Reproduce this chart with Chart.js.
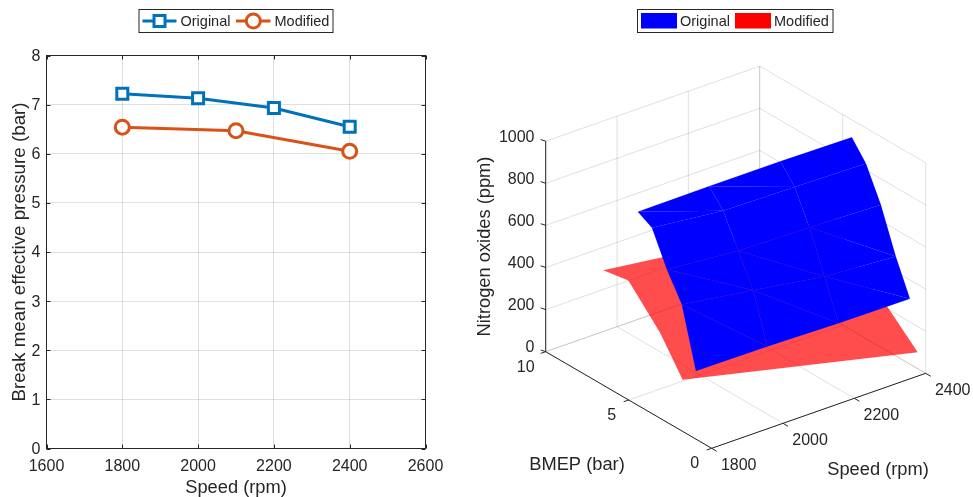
<!DOCTYPE html>
<html>
<head>
<meta charset="utf-8">
<title>Engine performance</title>
<script src="https://cdn.jsdelivr.net/npm/chart.js@4/dist/chart.umd.min.js"></script>
<style>
    html, body { margin: 0; padding: 0; background: #fff; overflow: hidden; }
    canvas { position: absolute; top: 0; }
    #lineChart { left: 0; }
    #surfaceChart { left: 455px; }
</style>
</head>
<body>
<canvas id="lineChart" width="455" height="497"></canvas>
<canvas id="surfaceChart" width="518" height="497"></canvas>
<script>
// Left plot: brake mean effective pressure
const originalSpeed = [1800, 2000, 2200, 2400];
const originalBmep = [7.22, 7.13, 6.93, 6.55];
const modifiedSpeed = [1800, 2100, 2400];
const modifiedBmep = [6.54, 6.47, 6.05];

// Right plot: axis ticks
const speedTicks = [1800, 2000, 2200, 2400];
const bmepTicks = [0, 5, 10];
const noxTicks = [0, 200, 400, 600, 800, 1000];

// Right plot: original surface, rows go from low to high BMEP
const surfaceSpeed = [1800, 2000, 2200, 2400];
const surfaceBmep = [0.95, 1.8, 2.7, 3.6, 4.45];
const surfaceNox = [
    [324, 321, 313, 311],
    [600, 549, 496, 472],
    [725, 696, 688, 677],
    [882, 845, 839, 831],
    [919, 922, 922, 917]
];

// Right plot: modified surface, BMEP changes with speed here
const modSurfaceSpeed = [1800, 2100, 2400];
const modSurfaceBmep = [
    [1.75, 1.12, 0.48],
    [3.11, 2.7, 2.27],
    [5.02, 4.34, 3.66],
    [6.53, 6.0, 5.47]
];
const modSurfaceNox = [
    [245, 161, 78],
    [406, 306, 207],
    [567, 423, 276],
    [546, 514, 483]
];

const FONT = '"Liberation Sans", Arial, sans-serif';
const TEXT = '#262626';
const GRID = 'rgba(38,38,38,0.14)';
const BLUE = '#0072BD';
const ORANGE = '#D95319';

// 3D view: where the axes end up on the page
function project(speed, bmep, nox) {
    const a = (speed - 1800) / 600;
    const b = bmep / 10;
    return {
        x: 711.7 + 214 * a - 166 * b,
        y: 448.3 - 75 * a - 96.6 * b - 0.2105 * nox
    };
}

function drawText(ctx, str, x, y, size, align, angle) {
    ctx.save();
    ctx.translate(x, y);
    if (angle) ctx.rotate(angle);
    ctx.font = size + 'px ' + FONT;
    ctx.fillStyle = TEXT;
    ctx.textAlign = align || 'center';
    ctx.textBaseline = 'middle';
    ctx.fillText(str, 0, 0);
    ctx.restore();
}

function drawLegendBox(ctx, left, right) {
    ctx.fillStyle = '#fff';
    ctx.fillRect(left, 9.5, right - left, 23);
    ctx.strokeStyle = TEXT;
    ctx.lineWidth = 1;
    ctx.strokeRect(left, 9.5, right - left, 23);
}

// Box, inward ticks and legend of the line plot
const lineDecor = {
    id: 'lineDecor',
    afterDraw(chart) {
        const ctx = chart.ctx;
        const area = chart.chartArea;
        const xs = chart.scales.x;
        const ys = chart.scales.y;
        ctx.save();
        ctx.strokeStyle = TEXT;
        ctx.lineWidth = 1;
        ctx.beginPath();
        xs.ticks.forEach(function(t) {
            const x = Math.round(xs.getPixelForValue(t.value)) + 0.5;
            ctx.moveTo(x, area.top); ctx.lineTo(x, area.top + 4);
            ctx.moveTo(x, area.bottom); ctx.lineTo(x, area.bottom - 4);
        });
        ys.ticks.forEach(function(t) {
            const y = Math.round(ys.getPixelForValue(t.value)) + 0.5;
            ctx.moveTo(area.left, y); ctx.lineTo(area.left + 4, y);
            ctx.moveTo(area.right, y); ctx.lineTo(area.right - 4, y);
        });
        ctx.stroke();
        ctx.strokeRect(area.left, area.top, area.right - area.left, area.bottom - area.top);

        // Legend
        drawLegendBox(ctx, 139, 333);
        ctx.lineWidth = 3;
        ctx.strokeStyle = BLUE;
        ctx.beginPath(); ctx.moveTo(142.5, 21); ctx.lineTo(176.5, 21); ctx.stroke();
        ctx.fillStyle = '#fff';
        ctx.fillRect(154, 15.5, 11, 11);
        ctx.strokeRect(154, 15.5, 11, 11);
        ctx.strokeStyle = ORANGE;
        ctx.beginPath(); ctx.moveTo(236, 21); ctx.lineTo(270.5, 21); ctx.stroke();
        ctx.beginPath(); ctx.arc(253.3, 21, 7, 0, Math.PI * 2); ctx.fill(); ctx.stroke();
        ctx.restore();
        drawText(ctx, 'Original', 180.5, 21.5, 14.5, 'left');
        drawText(ctx, 'Modified', 274.5, 21.5, 14.5, 'left');
    }
};

// Axis lines, ticks and labels of the 3D plot
const surfaceDecor = {
    id: 'surfaceDecor',
    afterDraw(chart) {
        const ctx = chart.ctx;
        const px = function(p) {
            return { x: chart.scales.x.getPixelForValue(p.x), y: chart.scales.y.getPixelForValue(p.y) };
        };
        const seg = function(p, dx, dy) {
            const q = px(p);
            ctx.moveTo(q.x, q.y);
            ctx.lineTo(q.x + dx, q.y + dy);
        };
        ctx.save();
        ctx.strokeStyle = TEXT;
        ctx.lineWidth = 1;
        ctx.beginPath();
        const origin = px(project(1800, 10, 0));
        const top = px(project(1800, 10, 1000));
        const corner = px(project(1800, 0, 0));
        const far = px(project(2400, 0, 0));
        ctx.moveTo(top.x, top.y); ctx.lineTo(origin.x, origin.y);
        ctx.lineTo(corner.x, corner.y); ctx.lineTo(far.x, far.y);
        noxTicks.forEach(function(z) { seg(project(1800, 10, z), -5, -1.7); });
        bmepTicks.forEach(function(b) { seg(project(1800, b, 0), -5, 1.7); });
        speedTicks.forEach(function(s) { seg(project(s, 0, 0), 5, 3); });
        ctx.stroke();

        // Legend
        drawLegendBox(ctx, 182.5, 378);
        ctx.fillStyle = '#0000ff';
        ctx.fillRect(186, 13, 36, 15.5);
        ctx.fillStyle = '#ff0000';
        ctx.fillRect(280, 13, 36, 15.5);
        ctx.restore();
        drawText(ctx, 'Original', 225, 21.5, 14.5, 'left');
        drawText(ctx, 'Modified', 319, 21.5, 14.5, 'left');

        // Tick labels
        noxTicks.forEach(function(z) {
            const p = px(project(1800, 10, z));
            drawText(ctx, String(z), 79.5, p.y - 4, 16, 'right');
        });
        speedTicks.forEach(function(s) {
            const p = px(project(s, 0, 0));
            drawText(ctx, String(s), p.x + 27, p.y + 17, 16);
        });
        bmepTicks.forEach(function(b) {
            const p = px(project(1800, b, 0));
            drawText(ctx, String(b), p.x - (b === 10 ? 20 : 17), p.y + 15.5, 16);
        });

        // Axis titles
        drawText(ctx, 'Nitrogen oxides (ppm)', 29.5, 246.5, 18.3, 'center', -Math.PI / 2);
        drawText(ctx, 'BMEP (bar)', 122, 464.5, 18.3);
        drawText(ctx, 'Speed (rpm)', 423, 470, 18.3);
    }
};

function polygon(points, color, seam) {
    return {
        data: points.concat([points[0]]),
        showLine: true,
        tension: 0,
        borderWidth: seam,
        borderColor: color,
        pointRadius: 0,
        backgroundColor: color,
        fill: 'shape',
        clip: false
    };
}

function gridLine(from, to) {
    return {
        data: [from, to],
        showLine: true,
        tension: 0,
        borderColor: GRID,
        borderWidth: 1,
        pointRadius: 0,
        fill: false,
        clip: false
    };
}

// First dataset ends up on top: blue mesh, red sheet, then the walls
function buildSurfaceDatasets() {
    const sets = [];

    // Blue mesh. Cells are split in two where the reference shows a diagonal seam
    for (let r = 0; r < surfaceBmep.length - 1; r++) {
        for (let c = 0; c < surfaceSpeed.length - 1; c++) {
            const p00 = project(surfaceSpeed[c], surfaceBmep[r], surfaceNox[r][c]);
            const p01 = project(surfaceSpeed[c + 1], surfaceBmep[r], surfaceNox[r][c + 1]);
            const p10 = project(surfaceSpeed[c], surfaceBmep[r + 1], surfaceNox[r + 1][c]);
            const p11 = project(surfaceSpeed[c + 1], surfaceBmep[r + 1], surfaceNox[r + 1][c + 1]);
            if (r === 2 || (r === 3 && c === 2)) {
                sets.push(polygon([p00, p01, p11, p10], '#0000ff', 0.12));
            } else {
                sets.push(polygon([p00, p01, p10], '#0000ff', 0.12));
                sets.push(polygon([p01, p11, p10], '#0000ff', 0.12));
            }
        }
    }

    // Red sheet, outline only since the fill is see-through
    const outline = [];
    const rows = modSurfaceBmep.length;
    const cols = modSurfaceSpeed.length;
    const modPoint = function(r, c) {
        return project(modSurfaceSpeed[c], modSurfaceBmep[r][c], modSurfaceNox[r][c]);
    };
    for (let c = 0; c < cols; c++) outline.push(modPoint(0, c));
    for (let r = 1; r < rows; r++) outline.push(modPoint(r, cols - 1));
    for (let c = cols - 2; c >= 0; c--) outline.push(modPoint(rows - 1, c));
    for (let r = rows - 2; r > 0; r--) outline.push(modPoint(r, 0));
    sets.push(polygon(outline, 'rgba(255,0,0,0.7)', 0));

    // Floor and the two back walls
    speedTicks.forEach(function(s) {
        sets.push(gridLine(project(s, 0, 0), project(s, 10, 0)));
        sets.push(gridLine(project(s, 10, 0), project(s, 10, 1000)));
    });
    bmepTicks.forEach(function(b) {
        sets.push(gridLine(project(1800, b, 0), project(2400, b, 0)));
        sets.push(gridLine(project(2400, b, 0), project(2400, b, 1000)));
    });
    noxTicks.forEach(function(z) {
        sets.push(gridLine(project(1800, 10, z), project(2400, 10, z)));
        sets.push(gridLine(project(2400, 10, z), project(2400, 0, z)));
    });
    return sets;
}

document.addEventListener('DOMContentLoaded', function() {
    new Chart(document.getElementById('lineChart').getContext('2d'), {
        type: 'scatter',
        data: {
            datasets: [{
                label: 'Modified',
                data: modifiedSpeed.map(function(s, i) { return { x: s, y: modifiedBmep[i] }; }),
                showLine: true,
                borderColor: ORANGE,
                borderWidth: 3,
                pointStyle: 'circle',
                pointRadius: 7,
                pointBorderWidth: 3,
                pointBorderColor: ORANGE,
                pointBackgroundColor: '#fff'
            }, {
                label: 'Original',
                data: originalSpeed.map(function(s, i) { return { x: s, y: originalBmep[i] }; }),
                showLine: true,
                borderColor: BLUE,
                borderWidth: 3,
                pointStyle: 'rect',
                pointRadius: 7.8,
                pointBorderWidth: 3,
                pointBorderColor: BLUE,
                pointBackgroundColor: '#fff'
            }]
        },
        options: {
            responsive: false,
            animation: false,
            layout: { padding: { top: 55.5, right: 29.5, left: 0, bottom: 0 } },
            plugins: { legend: { display: false }, tooltip: { enabled: false } },
            scales: {
                x: {
                    min: 1600,
                    max: 2600,
                    afterFit: function(s) { s.height = 48.5; },
                    ticks: {
                        stepSize: 200,
                        maxRotation: 0,
                        padding: 8,
                        color: TEXT,
                        font: { family: FONT, size: 16 },
                        callback: function(v) { return String(v); }
                    },
                    grid: { color: GRID, drawTicks: false },
                    border: { display: false },
                    title: {
                        display: true,
                        text: 'Speed (rpm)',
                        color: TEXT,
                        font: { family: FONT, size: 18.3, lineHeight: 1 },
                        padding: { top: -2, bottom: 0 }
                    }
                },
                y: {
                    min: 0,
                    max: 8,
                    afterFit: function(s) { s.width = 46.5; },
                    ticks: {
                        stepSize: 1,
                        padding: 6,
                        labelOffset: 1,
                        color: TEXT,
                        font: { family: FONT, size: 16 }
                    },
                    grid: { color: GRID, drawTicks: false },
                    border: { display: false },
                    title: {
                        display: true,
                        text: 'Break mean effective pressure (bar)',
                        color: TEXT,
                        font: { family: FONT, size: 18.8 },
                        padding: { top: 9, bottom: 0 }
                    }
                }
            }
        },
        plugins: [lineDecor]
    });

    new Chart(document.getElementById('surfaceChart').getContext('2d'), {
        type: 'scatter',
        data: { datasets: buildSurfaceDatasets() },
        options: {
            responsive: false,
            animation: false,
            plugins: { legend: { display: false }, tooltip: { enabled: false } },
            scales: {
                x: { display: false, min: 455, max: 973 },
                y: { display: false, min: 0, max: 497, reverse: true }
            }
        },
        plugins: [surfaceDecor]
    });
});
</script>
</body>
</html>
